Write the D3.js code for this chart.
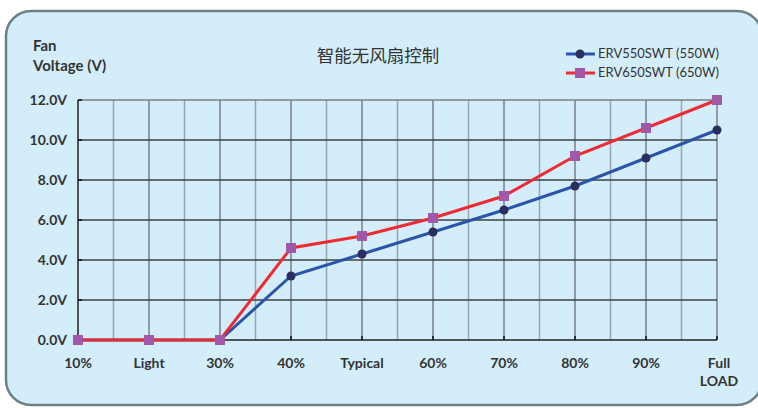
<!DOCTYPE html>
<html>
<head>
<meta charset="utf-8">
<script src="https://cdn.jsdelivr.net/npm/d3@7"></script>
<style>
  body { margin: 0; background: #fff; }
  svg text { font-family: Lato, "Open Sans", sans-serif; fill: #333; }
</style>
</head>
<body>
<svg id="chart" width="758" height="408"></svg>
<script>
var categories = ['10%', 'Light', '30%', '40%', 'Typical', '60%', '70%', '80%', '90%', 'Full LOAD'];
var erv550 = [0, 0, 0, 3.2, 4.3, 5.4, 6.5, 7.7, 9.1, 10.5];
var erv650 = [0, 0, 0, 4.6, 5.2, 6.1, 7.2, 9.2, 10.6, 12.0];
var yTicks = [0, 2, 4, 6, 8, 10, 12];
var seriesNames = ['ERV550SWT (550W)', 'ERV650SWT (650W)'];

var svg = d3.select('#chart');

// rounded panel
svg.append('rect')
  .attr('x', 6).attr('y', 11)
  .attr('width', 756).attr('height', 394)
  .attr('rx', 25).attr('ry', 25)
  .attr('fill', '#d3eefa')
  .attr('stroke', '#6f7f87')
  .attr('stroke-width', 2.5);

var x = d3.scalePoint().domain(categories).range([78, 717]);
var y = d3.scaleLinear().domain([0, 12]).range([340, 100]);
var step = x.step();

// vertical grid: half steps lighter, category lines darker
var halves = categories.slice(0, -1).map(function(c){ return x(c) + step / 2; });
svg.append('g').selectAll('line').data(halves).enter().append('line')
  .attr('x1', function(d){ return d; }).attr('x2', function(d){ return d; })
  .attr('y1', y(12)).attr('y2', y(0))
  .attr('stroke', '#9aa6ad').attr('stroke-width', 1.5);
svg.append('g').selectAll('line').data(categories.slice(1)).enter().append('line')
  .attr('x1', function(d){ return x(d); }).attr('x2', function(d){ return x(d); })
  .attr('y1', y(12)).attr('y2', y(0))
  .attr('stroke', '#7a7f84').attr('stroke-width', 1.5);

// horizontal grid
svg.append('g').selectAll('line').data(yTicks.slice(1)).enter().append('line')
  .attr('x1', x(categories[0])).attr('x2', x(categories[categories.length - 1]))
  .attr('y1', function(d){ return y(d); }).attr('y2', function(d){ return y(d); })
  .attr('stroke', function(d){ return d === 12 ? '#7a7f84' : '#3c4144'; })
  .attr('stroke-width', 1.5);

// axes
svg.append('line')
  .attr('x1', x(categories[0])).attr('x2', x(categories[0]))
  .attr('y1', y(12)).attr('y2', y(0))
  .attr('stroke', '#222').attr('stroke-width', 1.5);
svg.append('line')
  .attr('x1', x(categories[0])).attr('x2', x(categories[categories.length - 1]))
  .attr('y1', y(0)).attr('y2', y(0))
  .attr('stroke', '#222').attr('stroke-width', 1.5);
svg.append('g').selectAll('line').data(yTicks).enter().append('line')
  .attr('x1', x(categories[0])).attr('x2', x(categories[0]) + 4)
  .attr('y1', function(d){ return y(d); }).attr('y2', function(d){ return y(d); })
  .attr('stroke', '#111').attr('stroke-width', 1.5);
svg.append('g').selectAll('line').data(categories).enter().append('line')
  .attr('x1', function(d){ return x(d); }).attr('x2', function(d){ return x(d); })
  .attr('y1', y(0) - 4).attr('y2', y(0))
  .attr('stroke', '#111').attr('stroke-width', 1.5);

// y labels
svg.append('g').selectAll('text').data(yTicks).enter().append('text')
  .attr('x', 67).attr('y', function(d){ return y(d) + 5; })
  .attr('text-anchor', 'end')
  .style('font-size', '14px').style('font-weight', 'bold')
  .text(function(d){ return d.toFixed(1) + 'V'; });

// x labels
var xl = svg.append('g').selectAll('text').data(categories).enter().append('text')
  .attr('x', function(d){ return x(d) + (d === 'Full LOAD' ? 2 : 0); })
  .attr('y', 368)
  .attr('text-anchor', 'middle')
  .style('font-size', '14px').style('font-weight', 'bold');
xl.each(function(d){
  var parts = d.split(' ');
  var t = d3.select(this);
  parts.forEach(function(p, i){
    t.append('tspan').attr('x', t.attr('x')).attr('dy', i === 0 ? 0 : 18).text(p);
  });
});

// axis title
svg.append('text').attr('x', 33).attr('y', 51)
  .style('font-size', '15px').style('font-weight', 'bold').text('Fan');
svg.append('text').attr('x', 33).attr('y', 71)
  .style('font-size', '15px').style('font-weight', 'bold').text('Voltage (V)');

// title
svg.append('text').attr('x', 378).attr('y', 62)
  .attr('text-anchor', 'middle')
  .style('font-family', '"Noto Sans CJK SC", sans-serif')
  .style('font-size', '17.5px').style('fill', '#333')
  .text('智能无风扇控制');

// lines
var line = d3.line()
  .x(function(d, i){ return x(categories[i]); })
  .y(function(d){ return y(d); });

svg.append('path').datum(erv550).attr('d', line)
  .attr('fill', 'none').attr('stroke', '#2a55a8').attr('stroke-width', 3);
svg.append('path').datum(erv650).attr('d', line)
  .attr('fill', 'none').attr('stroke', '#ee2a33').attr('stroke-width', 3);

svg.append('g').selectAll('circle').data(erv550).enter().append('circle')
  .attr('cx', function(d, i){ return x(categories[i]); })
  .attr('cy', function(d){ return y(d); })
  .attr('r', 4.5).attr('fill', '#2b2d5e');
svg.append('g').selectAll('rect').data(erv650).enter().append('rect')
  .attr('x', function(d, i){ return x(categories[i]) - 5; })
  .attr('y', function(d){ return y(d) - 5; })
  .attr('width', 10).attr('height', 10).attr('fill', '#a257a9');

// legend
var lg = svg.append('g');
lg.append('line').attr('x1', 566).attr('x2', 595).attr('y1', 54).attr('y2', 54)
  .attr('stroke', '#2a55a8').attr('stroke-width', 3);
lg.append('circle').attr('cx', 580).attr('cy', 54).attr('r', 4.5).attr('fill', '#2b2d5e');
lg.append('line').attr('x1', 566).attr('x2', 595).attr('y1', 73).attr('y2', 73)
  .attr('stroke', '#ee2a33').attr('stroke-width', 3);
lg.append('rect').attr('x', 575).attr('y', 68).attr('width', 10).attr('height', 10).attr('fill', '#a257a9');
lg.selectAll('text').data(seriesNames).enter().append('text')
  .attr('x', 598).attr('y', function(d, i){ return 58 + i * 19; })
  .style('font-size', '13px')
  .text(function(d){ return d; });
</script>
</body>
</html>
